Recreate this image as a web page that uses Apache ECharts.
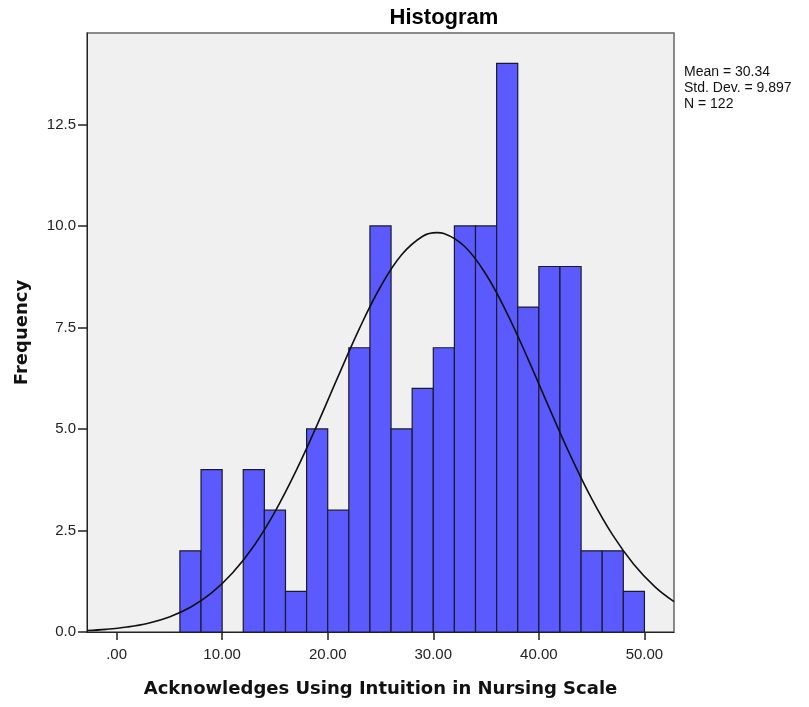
<!DOCTYPE html>
<html>
<head>
<meta charset="utf-8">
<script src="https://cdn.jsdelivr.net/npm/echarts@6/dist/echarts.min.js"></script>
<style>html,body{margin:0;padding:0;background:#fff}#c{width:809px;height:707px}</style>
</head>
<body>
<div id="c"></div>
<script>
// Histogram bins (lower edge, width 2) and counts
var binStarts = [6, 8, 10, 12, 14, 16, 18, 20, 22, 24, 26, 28, 30, 32, 34, 36, 38, 40, 42, 44, 46, 48];
var binWidth = 2;
var counts = [2, 4, 0, 4, 3, 1, 5, 3, 7, 10, 5, 6, 7, 10, 10, 14, 8, 9, 9, 2, 2, 1];
// Normal curve (x, frequency)
var curveX = [-2.8, -1, 1, 3, 5, 7, 9, 11, 13, 15, 17, 19, 21, 23, 25, 27, 29, 30.34, 31, 33, 35, 37, 39, 41, 43, 45, 47, 49, 51, 52.8];
var curveY = [0.036, 0.065, 0.122, 0.216, 0.371, 0.609, 0.962, 1.458, 2.119, 2.960, 3.966, 5.101, 6.300, 7.471, 8.502, 9.290, 9.746, 9.835, 9.813, 9.486, 8.802, 7.842, 6.707, 5.507, 4.340, 3.284, 2.384, 1.663, 1.113, 0.749];
var xTicks = [0, 10, 20, 30, 40, 50];
var yTicks = [0, 2.5, 5, 7.5, 10, 12.5];
var statsLines = ['Mean = 30.34', 'Std. Dev. = 9.897', 'N = 122'];

var chart = echarts.init(document.getElementById('c'), null, {renderer: 'canvas'});
var barData = binStarts.map(function (s, i) { return [s, s + binWidth, counts[i]]; });
var curveData = curveX.map(function (x, i) { return [x, curveY[i]]; });

chart.setOption({
  animation: false,
  backgroundColor: '#ffffff',
  title: [
    {text: 'Histogram', left: 444, top: 7, textAlign: 'center', padding: 0,
     textStyle: {fontFamily: 'Liberation Sans', fontWeight: 'bold', fontSize: 22, color: '#000'}},
    {text: statsLines.join('\n'), left: 684, top: 64, padding: 0,
     textStyle: {fontFamily: 'Liberation Sans', fontWeight: 'normal', fontSize: 14, lineHeight: 16, color: '#111'}}
  ],
  grid: {left: 87, right: 135, top: 33, bottom: 75, show: true, backgroundColor: '#F0F0F0', borderColor: '#666', borderWidth: 1.5},
  xAxis: {
    type: 'value', min: -2.8, max: 52.8,
    name: 'Acknowledges Using Intuition in Nursing Scale', nameLocation: 'middle', nameGap: 48,
    nameTextStyle: {fontFamily: 'DejaVu Sans', fontWeight: 'bold', fontSize: 18, color: '#111'},
    axisLine: {show: true, onZero: false, lineStyle: {color: '#222', width: 1}},
    axisTick: {show: true, customValues: xTicks, length: 8, lineStyle: {color: '#222', width: 1.5}},
    axisLabel: {customValues: xTicks, fontFamily: 'Liberation Sans', fontSize: 15, color: '#222', margin: 15,
      formatter: function (v) { return v === 0 ? '.00' : v.toFixed(2); }},
    splitLine: {show: false}
  },
  yAxis: {
    type: 'value', min: 0, max: 14.75,
    name: 'Frequency', nameLocation: 'middle', nameGap: 56,
    nameTextStyle: {fontFamily: 'DejaVu Sans', fontWeight: 'bold', fontSize: 18, color: '#111'},
    axisLine: {show: true, onZero: false, lineStyle: {color: '#222', width: 1}},
    axisTick: {show: true, customValues: yTicks, length: 9, lineStyle: {color: '#222', width: 1.5}},
    axisLabel: {customValues: yTicks, fontFamily: 'Liberation Sans', fontSize: 15, color: '#222', margin: 11,
      formatter: function (v) { return v.toFixed(1); }},
    splitLine: {show: false}
  },
  series: [
    {
      type: 'custom',
      data: barData,
      renderItem: function (params, api) {
        var v = api.value(2);
        if (!v) return null;
        var p0 = api.coord([api.value(0), v]);
        var p1 = api.coord([api.value(1), 0]);
        return {
          type: 'rect',
          shape: {x: p0[0], y: p0[1], width: p1[0] - p0[0], height: p1[1] - p0[1]},
          style: {fill: '#5A5AFF', stroke: '#1a1a2a', lineWidth: 1.2}
        };
      },
      encode: {x: [0, 1], y: 2},
      z: 2
    },
    {
      type: 'line', data: curveData, smooth: 0.4, showSymbol: false,
      lineStyle: {color: '#111', width: 1.6}, z: 3
    }
  ]
});
</script>
</body>
</html>
